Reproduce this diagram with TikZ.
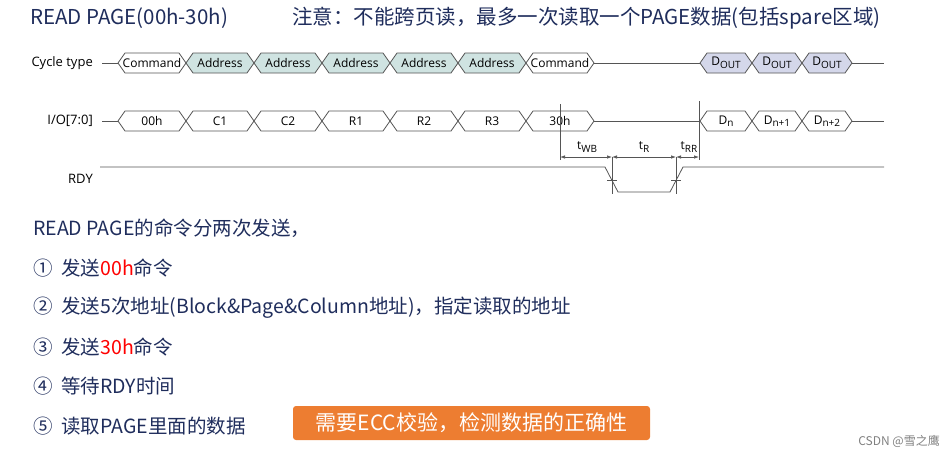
\documentclass[tikz,border=0pt]{standalone}
\usepackage{fontspec}
\usetikzlibrary{arrows.meta}
\setmainfont{Open Sans}
\newfontfamily\cjk{Noto Sans CJK SC}
\definecolor{navy}{HTML}{1F2D5C}
\definecolor{addr}{HTML}{CFE3E1}
\definecolor{dout}{HTML}{D4D7EA}
\definecolor{orng}{HTML}{ED7D31}
\definecolor{sig}{HTML}{555555}
\newcommand{\sbs}[1]{\raisebox{-2.5pt}{\fontsize{10}{10}\selectfont #1}}
\begin{document}
\begin{tikzpicture}[x=1pt,y=-1pt,
  sigl/.style={draw=sig,line width=0.8pt},
  lbl/.style={font=\fontsize{12}{13}\selectfont,inner sep=0pt},
  cn/.style={font=\cjk\fontsize{19.5}{21}\selectfont,text=navy,anchor=west,inner sep=0pt},
  dim/.style={draw=sig,line width=0.7pt,{Latex[length=5pt,width=3.5pt]}-{Latex[length=5pt,width=3.5pt]}}]
\useasboundingbox (0,0) rectangle (952,459);
\newcommand{\hexbox}[6]{% a b y fill name text
  \filldraw[sigl,fill=#4] (#1,#3) -- (#1+7,#3-10) -- (#2-7,#3-10) -- (#2,#3) -- (#2-7,#3+10) -- (#1+7,#3+10) -- cycle;
  \node[lbl] (#5) at ({(#1+#2)/2},#3) {#6};}
% titles
\node[font=\cjk\fontsize{20.5}{22}\selectfont,text=navy,anchor=west,inner sep=0pt] (title) at (30,18) {READ PAGE(00h-30h)};
\node[font=\cjk\fontsize{20.5}{22}\selectfont,text=navy,anchor=west,inner sep=0pt] (note) at (292,18) {注意：不能跨页读，最多一次读取一个PAGE数据(包括spare区域)};
% row labels
\node[lbl,anchor=east,font=\fontsize{13}{14}\selectfont] (ct) at (93,63) {Cycle type};
\node[lbl,anchor=east,font=\fontsize{13}{14}\selectfont] (io) at (93,121) {I/O[7:0]};
\node[lbl,anchor=east,font=\fontsize{13}{14}\selectfont] (rdy) at (93,179) {RDY};
% cycle row
\draw[sigl] (102,63) -- (118,63);
\hexbox{118}{186}{63}{white}{c0}{Command}
\hexbox{186}{254}{63}{addr}{a1}{Address}
\hexbox{254}{322}{63}{addr}{a2}{Address}
\hexbox{322}{390}{63}{addr}{a3}{Address}
\hexbox{390}{458}{63}{addr}{a4}{Address}
\hexbox{458}{526}{63}{addr}{a5}{Address}
\hexbox{526}{594}{63}{white}{c1}{Command}
\draw[sigl] (594,63) -- (700,63);
\hexbox{700}{752}{63}{dout}{d1}{D\sbs{OUT}}
\hexbox{752}{802}{63}{dout}{d2}{D\sbs{OUT}}
\hexbox{802}{852}{63}{dout}{d3}{D\sbs{OUT}}
\draw[sigl] (852,63) -- (884,63);
% io row
\draw[sigl] (102,121) -- (118,121);
\hexbox{118}{186}{121}{white}{i0}{00h}
\hexbox{186}{254}{121}{white}{i1}{C1}
\hexbox{254}{322}{121}{white}{i2}{C2}
\hexbox{322}{390}{121}{white}{i3}{R1}
\hexbox{390}{458}{121}{white}{i4}{R2}
\hexbox{458}{526}{121}{white}{i5}{R3}
\hexbox{526}{594}{121}{white}{i6}{30h}
\draw[sigl] (594,121) -- (700,121);
\hexbox{700}{752}{121}{white}{n1}{D\sbs{n}}
\hexbox{752}{802}{121}{white}{n2}{D\sbs{n+1}}
\hexbox{802}{852}{121}{white}{n3}{D\sbs{n+2}}
\draw[sigl] (852,121) -- (884,121);
% timing
\coordinate (v1) at (560,104); \coordinate (v1b) at (560,160);
\coordinate (v2) at (612,157); \coordinate (v2b) at (612,194);
\coordinate (v3) at (676,157); \coordinate (v3b) at (676,194);
\coordinate (v4) at (699,101); \coordinate (v4b) at (699,160);
\draw[sigl] (v1) -- (v1b);
\draw[sigl] (v4) -- (v4b);
\draw[sigl] (v2) -- (v2b);
\draw[sigl] (v3) -- (v3b);
\draw[sigl] (607,180) -- (617,180);
\draw[sigl] (671,180) -- (681,180);
\draw[dim] (v1 |- v2) -- (v2);
\draw[dim] (v2) -- (v3);
\draw[dim] (v3) -- (v4 |- v3);
\node[lbl] (twb) at (587,147) {t\sbs{WB}};
\node[lbl] (tr) at (644,147) {t\sbs{R}};
\node[lbl] (trr) at (689,147) {t\sbs{RR}};
\draw[sigl] (100,167) -- (605,167) -- (618,192) -- (670,192) -- (683,167) -- (884,167);
% bottom text
\node[cn] (l0) at (33,228) {READ PAGE的命令分两次发送，};
\node[cn] (l1) at (33,268) {①\ \ 发送\textcolor{red}{00h}命令};
\node[cn] (l2) at (33,308) {②\ \ 发送5次地址(Block\&Page\&Column地址)，指定读取的地址};
\node[cn] (l3) at (33,347) {③\ \ 发送\textcolor{red}{30h}命令};
\node[cn] (l4) at (33,386) {④\ \ 等待RDY时间};
\node[cn] (l5) at (33,426) {⑤\ \ 读取PAGE里面的数据};
\node[fill=orng,rounded corners=3pt,minimum width=357pt,minimum height=34pt,inner sep=0pt,
  font=\cjk\fontsize{21}{23}\selectfont,text=white] (ecc) at (471.5,423) {需要ECC校验，检测数据的正确性};
\node[font=\cjk\fontsize{12}{13}\selectfont,text=gray,anchor=east,inner sep=0pt] (wm) at (940,441) {CSDN @雪之鹰};
\end{tikzpicture}
\end{document}
